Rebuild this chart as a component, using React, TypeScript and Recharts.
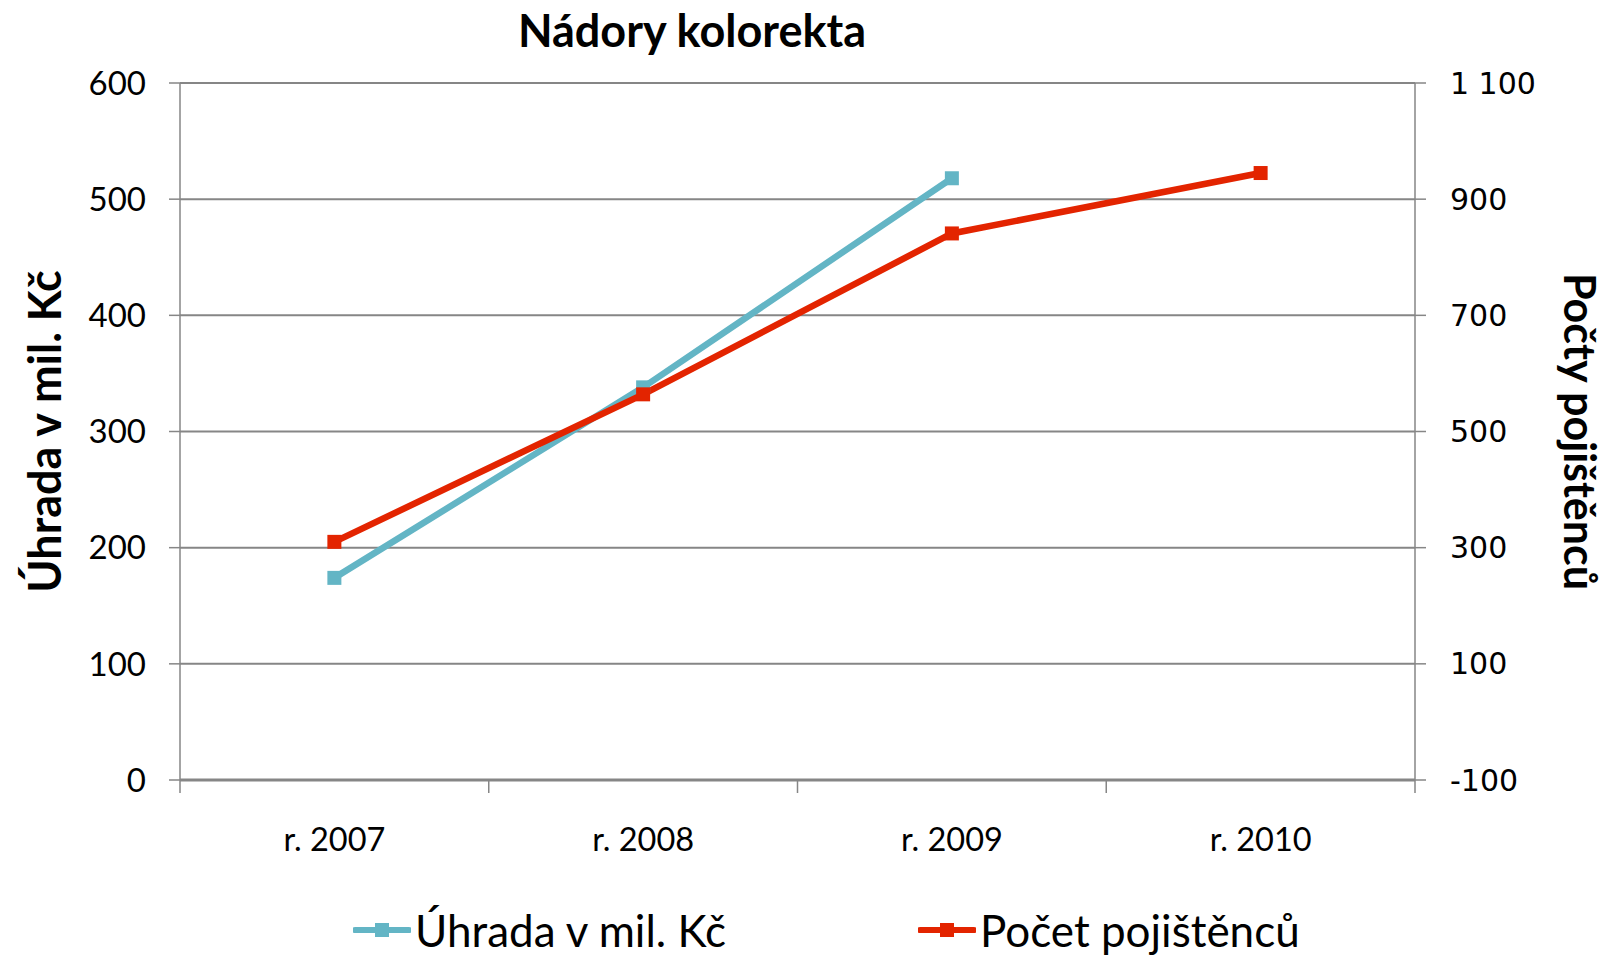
import { CartesianGrid, Line, LineChart, XAxis, YAxis } from "recharts";

const categories = ["r. 2007", "r. 2008", "r. 2009", "r. 2010"];
const uhrada = [174, 338, 518, null];
const pocet = [310, 564, 841, 945];
const leftTicks = [0, 100, 200, 300, 400, 500, 600];
const rightTicks = [-100, 100, 300, 500, 700, 900, 1100];

const W = 1607;
const H = 956;
const LEFT_W = 180;
const RIGHT_W = 192;
const TOP = 83;
const XAXIS_H = 60;
const BOTTOM_M = 116;
const PLOT_BOTTOM = H - BOTTOM_M - XAXIS_H;
const BAND = (W - LEFT_W - RIGHT_W) / categories.length;

const TEAL = "#63b5c5";
const RED = "#e32400";
const GRID = "#868686";
const FONT = "Lato, 'Open Sans', sans-serif";

const data = categories.map((c, i) => ({
  name: c,
  uhrada: uhrada[i],
  pocet: pocet[i],
}));

function squareDot(color: string) {
  return (props: any) => {
    const { cx, cy, index } = props;
    if (cx == null || cy == null || props.value == null) return <g key={index} />;
    return <rect key={index} x={cx - 7} y={cy - 7} width={14} height={14} fill={color} />;
  };
}

function XTick(props: any) {
  const { x, y, payload, index } = props;
  return (
    <g>
      <line x1={x - BAND / 2} x2={x - BAND / 2} y1={PLOT_BOTTOM} y2={PLOT_BOTTOM + 13} stroke={GRID} strokeWidth={1.5} />
      {index === categories.length - 1 ? (
        <line x1={x + BAND / 2} x2={x + BAND / 2} y1={PLOT_BOTTOM} y2={PLOT_BOTTOM + 13} stroke={GRID} strokeWidth={1.5} />
      ) : null}
      <text x={x} y={y} dy={50} textAnchor="middle" dominantBaseline="central" fontFamily={FONT} fontSize={32.5} fill="#000">
        {payload.value}
      </text>
    </g>
  );
}

const fmtRight = (v: number) => String(v).replace(/\B(?=(\d{3})+(?!\d))/g, " ");

function LegendItem({ color, label, left }: { color: string; label: string; left: number }) {
  return (
    <div style={{ position: "absolute", left, top: 0, display: "flex", alignItems: "center" }}>
      <svg width={58} height={20} style={{ marginRight: 4 }}>
        <line x1={2} x2={56} y1={10} y2={10} stroke={color} strokeWidth={6} strokeLinecap="round" />
        <rect x={22} y={3} width={14} height={14} fill={color} />
      </svg>
      <span style={{ fontFamily: FONT, fontSize: 44, color: "#000", lineHeight: "56px" }}>{label}</span>
    </div>
  );
}

export default function App() {
  return (
    <div style={{ position: "absolute", left: 0, top: 0, width: W, height: H, background: "#fff" }}>
      <div
        style={{
          position: "absolute",
          top: 2,
          left: 0,
          width: 1384,
          textAlign: "center",
          fontFamily: FONT,
          fontWeight: 700,
          fontSize: 45,
          lineHeight: "56px",
        }}
      >
        Nádory kolorekta
      </div>
      <LineChart
        width={W}
        height={H}
        data={data}
        margin={{ top: TOP, right: 0, left: 0, bottom: BOTTOM_M }}
      >
        <CartesianGrid horizontal vertical={false} stroke={GRID} strokeWidth={2} yAxisId="left" />
        <XAxis
          dataKey="name"
          scale="band"
          height={XAXIS_H}
          tickLine={false}
          axisLine={{ stroke: GRID, strokeWidth: 3 }}
          tick={<XTick />}
          interval={0}
        />
        <YAxis
          yAxisId="left"
          width={LEFT_W}
          domain={[0, 600]}
          ticks={leftTicks}
          axisLine={{ stroke: GRID, strokeWidth: 1.5 }}
          tickLine={{ stroke: GRID, strokeWidth: 1.5 }}
          tickSize={11}
          tickMargin={23}
          tick={{ fontFamily: FONT, fontSize: 33, fill: "#000" }}
          label={{
            content: (p: any) => {
              const vb = p.viewBox;
              const cx = vb.x + 44;
              const cy = vb.y + vb.height / 2;
              return (
                <text
                  x={cx}
                  y={cy}
                  transform={`rotate(-90 ${cx} ${cy})`}
                  textAnchor="middle"
                  dominantBaseline="central"
                  fontFamily={FONT}
                  fontWeight={700}
                  fontSize={45}
                  fill="#000"
                >
                  Úhrada v mil. Kč
                </text>
              );
            },
          }}
        />
        <YAxis
          yAxisId="right"
          orientation="right"
          width={RIGHT_W}
          domain={[-100, 1100]}
          ticks={rightTicks}
          tickFormatter={fmtRight}
          axisLine={{ stroke: GRID, strokeWidth: 1.5 }}
          tickLine={{ stroke: GRID, strokeWidth: 1.5 }}
          tickSize={11}
          tickMargin={24}
          tick={{ fontFamily: "'DejaVu Sans', sans-serif", fontSize: 30, fill: "#000" }}
          label={{
            content: (p: any) => {
              const vb = p.viewBox;
              const cx = vb.x + 165;
              const cy = vb.y + vb.height / 2;
              return (
                <text
                  x={cx}
                  y={cy}
                  transform={`rotate(90 ${cx} ${cy})`}
                  textAnchor="middle"
                  dominantBaseline="central"
                  fontFamily={FONT}
                  fontWeight={700}
                  fontSize={43}
                  fill="#000"
                >
                  Počty pojištěnců
                </text>
              );
            },
          }}
        />
        <Line
          yAxisId="left"
          dataKey="uhrada"
          stroke={TEAL}
          strokeWidth={6.5}
          dot={squareDot(TEAL)}
          activeDot={false}
          isAnimationActive={false}
        />
        <Line
          yAxisId="right"
          dataKey="pocet"
          stroke={RED}
          strokeWidth={6.5}
          dot={squareDot(RED)}
          activeDot={false}
          isAnimationActive={false}
        />
      </LineChart>
      <div style={{ position: "absolute", left: 0, top: 902, width: W, height: 56 }}>
        <LegendItem color={TEAL} label="Úhrada v mil. Kč" left={353} />
        <LegendItem color={RED} label="Počet pojištěnců" left={918} />
      </div>
    </div>
  );
}
